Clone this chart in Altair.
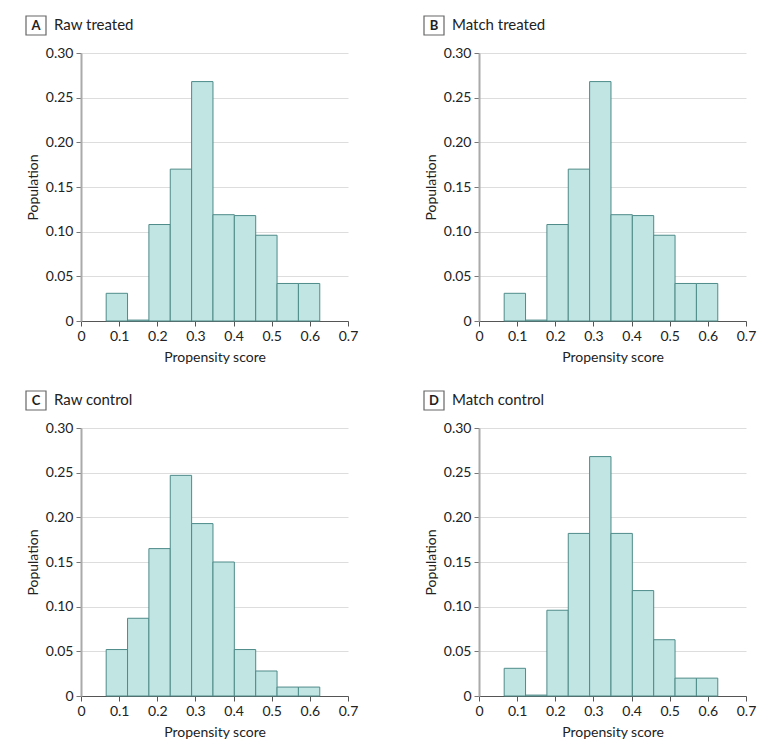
import altair as alt
import pandas as pd

# bin edges of the propensity-score histogram
edges = [0.066, 0.122, 0.178, 0.234, 0.290, 0.346, 0.402, 0.458, 0.514, 0.570, 0.626]

raw_treated = [0.031, 0.001, 0.108, 0.170, 0.268, 0.119, 0.118, 0.096, 0.042, 0.042]
match_treated = [0.031, 0.001, 0.108, 0.170, 0.268, 0.119, 0.118, 0.096, 0.042, 0.042]
raw_control = [0.052, 0.087, 0.165, 0.247, 0.193, 0.150, 0.052, 0.028, 0.010, 0.010]
match_control = [0.031, 0.001, 0.096, 0.182, 0.268, 0.182, 0.118, 0.063, 0.020, 0.020]

panels = [
    ("A", "Raw treated", raw_treated),
    ("B", "Match treated", match_treated),
    ("C", "Raw control", raw_control),
    ("D", "Match control", match_control),
]

x_ticks = [0, 0.1, 0.2, 0.3, 0.4, 0.5, 0.6, 0.7]
y_ticks = [0, 0.05, 0.10, 0.15, 0.20, 0.25, 0.30]

FONT = "Lato"
W, H = 267, 268


def panel(letter, label, values):
    df = pd.DataFrame({"start": edges[:-1], "end": edges[1:], "pop": values})
    bars = alt.Chart(df).mark_rect(
        fill="#c1e5e3", stroke="#4e8b89", strokeWidth=1
    ).encode(
        x=alt.X(
            "start:Q",
            scale=alt.Scale(domain=[0, 0.7], nice=False, zero=False),
            axis=alt.Axis(
                values=x_ticks,
                labelExpr="datum.value == 0 ? '0' : format(datum.value, '.1f')",
                title="Propensity score",
                grid=False,
                domainColor="#555555",
                domainWidth=1,
                tickColor="#555555",
                tickSize=5,
                labelPadding=3,
                titlePadding=7,
                labelFlush=False,
            ),
        ),
        x2="end:Q",
        y=alt.Y(
            "pop:Q",
            scale=alt.Scale(domain=[0, 0.3], nice=False),
            axis=alt.Axis(
                values=y_ticks,
                labelExpr="datum.value == 0 ? '0' : format(datum.value, '.2f')",
                title="Population",
                grid=True,
                gridColor="#dddddd",
                domainColor="#aaaaaa",
                domainWidth=2,
                tickColor="#777777",
                tickSize=5,
                labelPadding=3,
                titlePadding=5,
                labelFlush=False,
            ),
        ),
    )
    hdr = pd.DataFrame({"letter": [letter], "label": [label]})
    box = alt.Chart(hdr).mark_rect(
        fill="white", stroke="#666666", strokeWidth=1.2
    ).encode(
        x=alt.value(-55), x2=alt.value(-35), y=alt.value(-37), y2=alt.value(-18)
    )
    letter_txt = alt.Chart(hdr).mark_text(
        font=FONT, fontSize=13, fontWeight="bold", color="#222222",
        align="center", baseline="middle"
    ).encode(text="letter:N", x=alt.value(-45), y=alt.value(-27))
    label_txt = alt.Chart(hdr).mark_text(
        font=FONT, fontSize=15, color="#222222", align="left", baseline="middle"
    ).encode(text="label:N", x=alt.value(-27), y=alt.value(-28))
    return alt.layer(bars, box, letter_txt, label_txt).properties(width=W, height=H)


top = alt.hconcat(panel(*panels[0]), panel(*panels[1]), spacing=65)
bottom = alt.hconcat(panel(*panels[2]), panel(*panels[3]), spacing=65)

chart = alt.vconcat(top, bottom, spacing=26).properties(
    padding={"left": 17, "top": 7, "right": 5, "bottom": 5}
).configure_view(stroke=None).configure_axis(
    labelFont=FONT, titleFont=FONT, labelFontSize=14, titleFontSize=14,
    labelColor="#222222", titleColor="#222222", titleFontWeight="normal"
)

chart.save("out.html", embed_options={"renderer": "svg", "actions": False})
